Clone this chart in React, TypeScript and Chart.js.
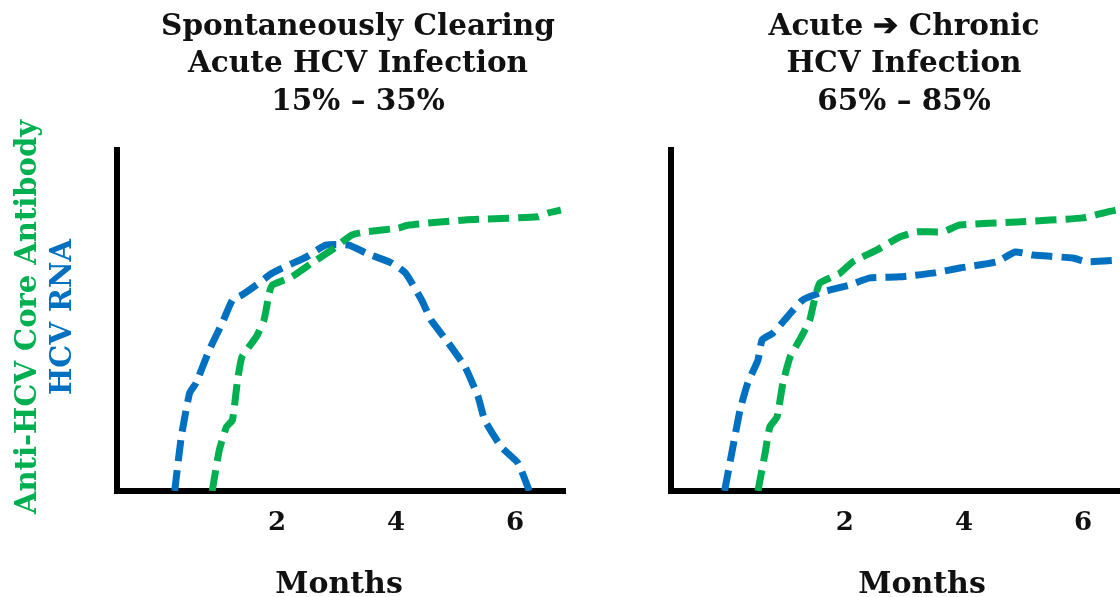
import { useEffect, useRef } from 'react';
import { Chart, registerables } from 'chart.js';

Chart.register(...registerables);

// ---------- data ----------
const tickMonths = [2, 4, 6];

const leftTitle = ['Spontaneously Clearing', 'Acute HCV Infection', '15% – 35%'];
const rightTitle = ['Acute ➔ Chronic', 'HCV Infection', '65% – 85%'];
const xAxisLabel = 'Months';
const yLabelAntibody = 'Anti-HCV Core Antibody';
const yLabelRna = 'HCV RNA';

// Spontaneously clearing – HCV RNA
const clearRnaMonths = [0.28, 0.39, 0.53, 0.64, 0.86, 1.08, 1.25, 1.41, 1.65, 1.92, 2.2, 2.49, 2.82, 3.21, 3.49, 3.92, 4.16, 4.43, 4.59, 4.88, 5.16, 5.38, 5.49, 5.77, 6.05, 6.24];
const clearRnaLevel = [0, 15.8, 28.7, 31.7, 41.3, 49.3, 56.0, 57.5, 60.4, 63.9, 66.3, 68.6, 72.1, 72.1, 69.8, 66.9, 63.9, 56.0, 50.1, 43.4, 36.4, 27.6, 20.8, 12.9, 8.2, 0];

// Spontaneously clearing – Anti-HCV core antibody
const clearAbMonths = [0.91, 1.03, 1.15, 1.25, 1.33, 1.41, 1.65, 1.78, 1.87, 1.92, 2.25, 2.59, 2.92, 3.26, 3.49, 4.04, 4.21, 5.16, 6.38, 6.55, 6.77];
const clearAbLevel = [0, 12.0, 18.8, 20.8, 31.7, 39.3, 45.2, 50.1, 58.1, 60.4, 62.8, 66.9, 70.7, 75.1, 76.0, 77.1, 78.0, 79.5, 80.4, 81.5, 82.4];

// Chronic – HCV RNA
const chronicRnaMonths = [-0.02, 0.1, 0.24, 0.37, 0.54, 0.61, 0.79, 1.03, 1.29, 1.63, 2.08, 2.42, 2.92, 3.48, 3.93, 4.55, 4.86, 5.16, 5.83, 6.07, 6.57];
const chronicRnaLevel = [0, 11.1, 23.8, 31.7, 38.4, 44.3, 46.3, 51.0, 56.0, 58.4, 60.4, 62.5, 62.8, 63.9, 65.4, 67.2, 70.1, 69.2, 68.3, 67.2, 67.7];

// Chronic – Anti-HCV core antibody
const chronicAbMonths = [0.54, 0.66, 0.74, 0.86, 0.96, 1.08, 1.24, 1.41, 1.5, 1.58, 1.92, 2.13, 2.54, 2.92, 3.21, 3.65, 3.93, 4.89, 6.0, 6.4, 6.57];
const chronicAbLevel = [0, 11.1, 18.8, 21.7, 31.7, 39.3, 44.3, 50.1, 56.9, 61.0, 63.9, 67.2, 70.7, 74.5, 76.0, 76.0, 78.0, 78.9, 80.1, 81.8, 82.4];

// ---------- styling ----------
const BLUE = '#0070C0';
const GREEN = '#00B050';
const SERIF = '"DejaVu Serif", serif';

const toPoints = (xs: number[], ys: number[]) => xs.map((x, i) => ({ x, y: ys[i] }));

const panelTextPlugin = {
  id: 'panelText',
  afterDraw(chart: any, _args: any, opts: any) {
    const ctx = chart.ctx as CanvasRenderingContext2D;
    ctx.save();
    ctx.textAlign = 'center';
    ctx.textBaseline = 'alphabetic';
    ctx.fillStyle = '#111';
    ctx.font = `bold ${opts.titleSize}px ${SERIF}`;
    (opts.title as string[]).forEach((line, i) => {
      ctx.fillText(line, opts.titleX, opts.titleBaselines[i]);
    });
    ctx.font = `bold ${opts.monthsSize}px ${SERIF}`;
    ctx.fillText(opts.months, opts.monthsX, opts.monthsBaseline);
    if (opts.yLabels) {
      ctx.font = `bold ${opts.yLabelSize}px ${SERIF}`;
      ctx.textBaseline = 'middle';
      for (const lab of opts.yLabels) {
        ctx.save();
        ctx.translate(lab.x, lab.y);
        ctx.rotate(-Math.PI / 2);
        ctx.fillStyle = lab.color;
        ctx.fillText(lab.text, 0, 0);
        ctx.restore();
      }
    }
    ctx.restore();
  },
};

function makeConfig(p: {
  rna: { x: number; y: number }[];
  ab: { x: number; y: number }[];
  xMin: number;
  xMax: number;
  padLeft: number;
  padRight: number;
  text: any;
}) {
  const lineDs = (data: any, color: string) => ({
    data,
    borderColor: color,
    backgroundColor: color,
    borderWidth: 7,
    borderDash: [21, 9],
    pointRadius: 0,
    tension: 0.15,
    fill: false,
  });
  return {
    type: 'line' as const,
    data: {
      datasets: [lineDs(p.ab, GREEN), lineDs(p.rna, BLUE)],
    },
    plugins: [panelTextPlugin],
    options: {
      animation: false,
      responsive: false,
      devicePixelRatio: 1,
      events: [],
      layout: { padding: { left: p.padLeft, right: p.padRight, top: 150, bottom: 0 } },
      scales: {
        x: {
          type: 'linear',
          min: p.xMin,
          max: p.xMax,
          grid: { display: false, drawTicks: false },
          border: { display: true, color: '#000', width: 6 },
          afterBuildTicks: (scale: any) => {
            scale.ticks = tickMonths.map((v) => ({ value: v }));
          },
          afterFit: (scale: any) => {
            scale.height = 106;
          },
          ticks: {
            color: '#111',
            padding: 17,
            maxRotation: 0,
            autoSkip: false,
            font: { family: SERIF, weight: 'bold', size: 26 },
          },
        },
        y: {
          min: 0,
          max: 100,
          grid: { display: false, drawTicks: false },
          border: { display: true, color: '#000', width: 6 },
          ticks: { display: false },
          afterFit: (scale: any) => {
            scale.width = 0;
          },
        },
      },
      plugins: {
        legend: { display: false },
        tooltip: { enabled: false },
        title: { display: false },
        panelText: p.text,
      },
    },
  };
}

function Panel({ config, width, left }: { config: any; width: number; left: number }) {
  const ref = useRef<HTMLCanvasElement | null>(null);
  useEffect(() => {
    if (!ref.current) return;
    const chart = new Chart(ref.current, config);
    return () => chart.destroy();
  }, [config]);
  return (
    <div style={{ position: 'absolute', left, top: 0, width, height: 597 }}>
      <canvas ref={ref} width={width} height={597} style={{ width, height: 597, display: 'block' }} />
    </div>
  );
}

const leftConfig = makeConfig({
  rna: toPoints(clearRnaMonths, clearRnaLevel),
  ab: toPoints(clearAbMonths, clearAbLevel),
  xMin: -0.69,
  xMax: 6.84,
  padLeft: 117,
  padRight: 35,
  text: {
    title: leftTitle,
    titleX: 358,
    titleBaselines: [35, 72, 110],
    titleSize: 29.5,
    months: xAxisLabel,
    monthsX: 339,
    monthsBaseline: 593,
    monthsSize: 30,
    yLabelSize: 29,
    yLabels: [
      { text: yLabelAntibody, color: GREEN, x: 28, y: 317 },
      { text: yLabelRna, color: BLUE, x: 63, y: 317 },
    ],
  },
});

const rightConfig = makeConfig({
  rna: toPoints(chronicRnaMonths, chronicRnaLevel),
  ab: toPoints(chronicAbMonths, chronicAbLevel),
  xMin: -0.92,
  xMax: 6.62,
  padLeft: 71,
  padRight: 0,
  text: {
    title: rightTitle,
    titleX: 304,
    titleBaselines: [35, 72, 110],
    titleSize: 29.5,
    months: xAxisLabel,
    monthsX: 322,
    monthsBaseline: 593,
    monthsSize: 30,
    yLabels: null,
  },
});

export default function App() {
  useEffect(() => {
    document.body.style.margin = '0';
    document.body.style.background = '#fff';
  }, []);
  return (
    <div style={{ position: 'relative', width: 1120, height: 597, overflow: 'hidden', background: '#fff' }}>
      <Panel config={leftConfig} width={600} left={0} />
      <Panel config={rightConfig} width={520} left={600} />
    </div>
  );
}
